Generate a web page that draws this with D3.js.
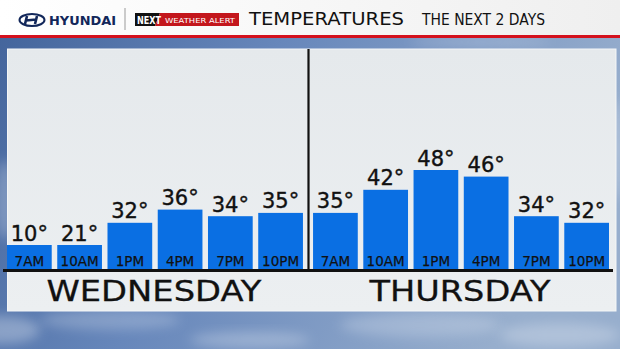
<!DOCTYPE html>
<html>
<head>
<meta charset="utf-8">
<script src="https://cdn.jsdelivr.net/npm/d3@7"></script>
<style>
  html, body { margin: 0; padding: 0; background: #5f7fae; }
  svg { display: block; }
</style>
</head>
<body>
<div id="chart"></div>
<script>
const days = ["WEDNESDAY", "THURSDAY"];
const hours = ["7AM", "10AM", "1PM", "4PM", "7PM", "10PM"];
const wednesdayTemps = [10, 21, 32, 36, 34, 35];
const thursdayTemps = [35, 42, 48, 46, 34, 32];
const title = "TEMPERATURES";
const subtitle = "THE NEXT 2 DAYS";

const width = 620, height = 349;
const baseline = 269;
const minBar = 24;
const font = "'DejaVu Sans', sans-serif";

const svg = d3.select("#chart").append("svg")
  .attr("width", width)
  .attr("height", height);

const defs = svg.append("defs");

// sky background
const sky = defs.append("linearGradient").attr("id", "sky")
  .attr("x1", 0).attr("y1", 0).attr("x2", 1).attr("y2", 0.3);
sky.append("stop").attr("offset", "0%").attr("stop-color", "#42639a");
sky.append("stop").attr("offset", "45%").attr("stop-color", "#6787bb");
sky.append("stop").attr("offset", "100%").attr("stop-color", "#97aecd");

const blur = defs.append("filter").attr("id", "blur")
  .attr("x", "-50%").attr("y", "-50%").attr("width", "200%").attr("height", "200%");
blur.append("feGaussianBlur").attr("stdDeviation", 6);

svg.append("rect").attr("width", width).attr("height", height).attr("fill", "url(#sky)");

const clouds = [
  [0, 330, 40, 14, 0.35], [110, 320, 70, 10, 0.25], [250, 340, 60, 8, 0.3],
  [420, 325, 80, 12, 0.25], [560, 335, 60, 12, 0.3], [5, 200, 10, 40, 0.3],
  [615, 150, 8, 50, 0.3], [480, 42, 70, 5, 0.25]
];
svg.append("g").selectAll("ellipse")
  .data(clouds)
  .join("ellipse")
  .attr("cx", d => d[0]).attr("cy", d => d[1])
  .attr("rx", d => d[2]).attr("ry", d => d[3])
  .attr("fill", "#e8eef6")
  .attr("opacity", d => d[4])
  .attr("filter", "url(#blur)");

// header bar
const head = defs.append("linearGradient").attr("id", "head")
  .attr("x1", 0).attr("x2", 1);
head.append("stop").attr("offset", "0%").attr("stop-color", "#ffffff");
head.append("stop").attr("offset", "100%").attr("stop-color", "#efefef");
svg.append("rect").attr("width", width).attr("height", 35).attr("fill", "url(#head)");
svg.append("rect").attr("y", 35).attr("width", width).attr("height", 3).attr("fill", "#d4111d");

// hyundai logo
const logo = svg.append("g").attr("transform", "translate(32,20)");
logo.append("ellipse").attr("rx", 12.5).attr("ry", 6)
  .attr("fill", "none").attr("stroke", "#12275a").attr("stroke-width", 2);
logo.append("path")
  .attr("d", "M-5,-4 L-7,4 M5,-4 L3,4 M-6,0.5 L4,-0.5")
  .attr("stroke", "#12275a").attr("stroke-width", 2.6).attr("fill", "none");
svg.append("text").attr("x", 49).attr("y", 25)
  .attr("textLength", 67).attr("lengthAdjust", "spacingAndGlyphs")
  .style("font-family", font).style("font-weight", "bold").style("font-size", "13px")
  .attr("fill", "#12275a").text("HYUNDAI");
svg.append("line").attr("x1", 125).attr("x2", 125).attr("y1", 8).attr("y2", 30)
  .attr("stroke", "#9a9a9a").attr("stroke-width", 1);

// next weather alert badge
svg.append("path").attr("d", "M135,13 L160,13 L155,26 L135,26 Z").attr("fill", "#111");
svg.append("path").attr("d", "M160,13 L239,13 L239,26 L155,26 Z").attr("fill", "#c3161c");
svg.append("text").attr("x", 137).attr("y", 23.5)
  .attr("textLength", 24).attr("lengthAdjust", "spacingAndGlyphs")
  .style("font-family", font).style("font-weight", "bold").style("font-size", "10px")
  .attr("fill", "#fff").text("NEXT");
svg.append("text").attr("x", 165).attr("y", 22.5)
  .attr("textLength", 70).attr("lengthAdjust", "spacingAndGlyphs")
  .style("font-family", font).style("font-size", "7px")
  .attr("fill", "#fff").text("WEATHER ALERT");

svg.append("text").attr("x", 249).attr("y", 25)
  .attr("textLength", 155).attr("lengthAdjust", "spacingAndGlyphs")
  .style("font-family", font).style("font-size", "18px")
  .attr("fill", "#111").text(title);
svg.append("text").attr("x", 422).attr("y", 24.5)
  .attr("textLength", 123).attr("lengthAdjust", "spacingAndGlyphs")
  .style("font-family", font).style("font-size", "15px")
  .attr("fill", "#111").text(subtitle);

// panel
const panel = defs.append("linearGradient").attr("id", "panel")
  .attr("x1", 0).attr("y1", 0).attr("x2", 0).attr("y2", 1);
panel.append("stop").attr("offset", "0%").attr("stop-color", "#e5e9ec");
panel.append("stop").attr("offset", "100%").attr("stop-color", "#eceff1");
svg.append("rect").attr("x", 7.5).attr("y", 49).attr("width", 608.5).attr("height", 262)
  .attr("fill", "url(#panel)").attr("stroke", "#f4f6f7").attr("stroke-width", 1);

// scales
const x0 = d3.scaleBand().domain(days).range([7, 609]).paddingInner(0.033);
const x1 = d3.scaleBand().domain(hours).range([0, x0.bandwidth()]).paddingInner(0.11);
const y = d3.scaleLinear().domain([18, 48]).range([baseline, 170]);
const barTop = v => Math.min(y(v), baseline - minBar);

const series = [wednesdayTemps, thursdayTemps];
const groups = svg.append("g").selectAll("g")
  .data(days)
  .join("g")
  .attr("transform", d => `translate(${x0(d)},0)`);

const cells = groups.selectAll("g")
  .data((d, i) => hours.map((h, j) => ({ hour: h, value: series[i][j] })))
  .join("g");

cells.append("rect")
  .attr("x", d => x1(d.hour))
  .attr("y", d => barTop(d.value))
  .attr("width", x1.bandwidth())
  .attr("height", d => baseline - barTop(d.value))
  .attr("fill", "#0a6fe3");

cells.append("text")
  .attr("x", d => x1(d.hour) + x1.bandwidth() / 2)
  .attr("y", d => barTop(d.value) - 4.5)
  .attr("text-anchor", "middle")
  .style("font-family", font)
  .style("font-size", "21px")
  .attr("fill", "#111")
  .attr("stroke", "#111").attr("stroke-width", 0.4)
  .text(d => d.value + "°");

cells.append("text")
  .attr("x", d => x1(d.hour) + x1.bandwidth() / 2)
  .attr("y", 266)
  .attr("text-anchor", "middle")
  .style("font-family", font)
  .style("font-size", "13.5px")
  .attr("fill", "#111")
  .attr("stroke", "#111").attr("stroke-width", 0.25)
  .text(d => d.hour);

// day labels
const dayWidths = [215, 181];
groups.append("text")
  .attr("x", x0.bandwidth() / 2 - 1)
  .attr("y", 301)
  .attr("text-anchor", "middle")
  .attr("textLength", (d, i) => dayWidths[i])
  .attr("lengthAdjust", "spacingAndGlyphs")
  .style("font-family", font)
  .style("font-size", "29px")
  .attr("fill", "#111")
  .attr("stroke", "#111").attr("stroke-width", 0.3)
  .text(d => d);

// divider and baseline
svg.append("line").attr("x1", 308.5).attr("x2", 308.5).attr("y1", 49).attr("y2", baseline)
  .attr("stroke", "#111").attr("stroke-width", 2.2);
svg.append("line").attr("x1", 3).attr("x2", 613).attr("y1", baseline + 1.5).attr("y2", baseline + 1.5)
  .attr("stroke", "#111").attr("stroke-width", 3);
</script>
</body>
</html>
